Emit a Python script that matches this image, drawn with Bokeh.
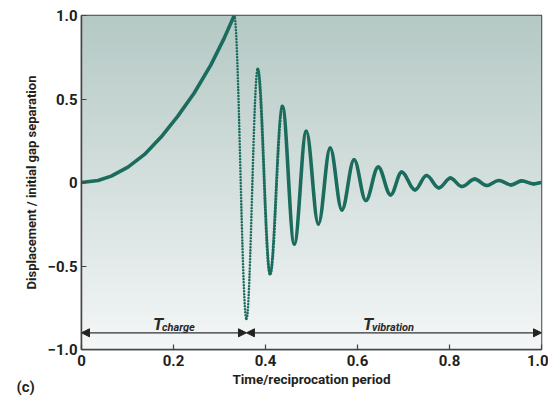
import numpy as np
from bokeh.plotting import figure
from bokeh.models import FixedTicker, Arrow, NormalHead, Label, Range1d, ColumnDataSource
from bokeh.embed import file_html
from bokeh.resources import INLINE

# ---- data ----
# charge phase (time, displacement)
charge_t = [0.0, 0.036, 0.0646, 0.101, 0.137, 0.173, 0.209, 0.245, 0.281, 0.310, 0.332]
charge_y = [0.0, 0.012, 0.038, 0.092, 0.168, 0.272, 0.396, 0.536, 0.703, 0.863, 1.0]

# vibration phase: successive extrema (time, displacement)
vib_t = [0.332, 0.3586, 0.383, 0.410, 0.4366, 0.4626, 0.4886, 0.515, 0.5406, 0.566,
         0.5926, 0.618, 0.645, 0.672, 0.696, 0.725, 0.750, 0.777, 0.802, 0.827,
         0.855, 0.881, 0.907, 0.934, 0.957, 0.983, 1.0]
vib_y = [1.0, -0.817, 0.679, -0.548, 0.456, -0.368, 0.306, -0.248, 0.206, -0.164,
         0.136, -0.108, 0.092, -0.074, 0.062, -0.044, 0.042, -0.032, 0.026, -0.024,
         0.020, -0.018, 0.012, -0.014, 0.010, -0.008, 0.0]

phase_edges = [0.0, 0.3586, 1.0]
phase_names = ["charge", "vibration"]
phase_level = -0.9

x_ticks = [0, 0.2, 0.4, 0.6, 0.8, 1.0]
x_tick_labels = ["0", "0.2", "0.4", "0.6", "0.8", "1.0"]
y_ticks = [-1.0, -0.5, 0, 0.5, 1.0]
y_tick_labels = ["\u22121.0", "\u22120.5", "0", "0.5", "1.0"]

# ---- styling ----
FONT = "Roboto"
LINE = "#1b6c5d"
TXT = "#231f20"

p = figure(width=548, height=396, x_range=Range1d(0, 1), y_range=Range1d(-1, 1),
           output_backend="svg", toolbar_location=None,
           min_border_left=81, min_border_right=7, min_border_top=15, min_border_bottom=47)
p.background_fill_color = "white"
p.border_fill_color = "white"
p.grid.visible = False
p.outline_line_color = "#444444"
p.outline_line_width = 1.5

# gradient background of the frame
N = 334
top = np.array([181, 201, 197], dtype=float)
bot = np.array([244, 247, 247], dtype=float)
f = np.linspace(0, 1, N)[:, None]
rgb = (bot * (1 - f) + top * f).astype(np.uint32)
img = np.empty((N, 1), dtype=np.uint32)
view = img.view(dtype=np.uint8).reshape((N, 1, 4))
view[:, :, 0] = rgb[:, None, 0]
view[:, :, 1] = rgb[:, None, 1]
view[:, :, 2] = rgb[:, None, 2]
view[:, :, 3] = 255
p.image_rgba(image=[img], x=0, y=-1, dw=1, dh=2)

# charge curve
p.line(charge_t, charge_y, line_color=LINE, line_width=3.6, line_join="round", line_cap="round")

# vibration: half-cosine-like bezier between successive extrema
a = 0.364
segs = dict(x0=[], y0=[], x1=[], y1=[], cx0=[], cy0=[], cx1=[], cy1=[])
for i in range(len(vib_t) - 1):
    x0, y0, x1, y1 = vib_t[i], vib_y[i], vib_t[i + 1], vib_y[i + 1]
    dx = x1 - x0
    segs["x0"].append(x0); segs["y0"].append(y0)
    segs["x1"].append(x1); segs["y1"].append(y1)
    segs["cx0"].append(x0 + a * dx); segs["cy0"].append(y0)
    segs["cx1"].append(x1 - a * dx); segs["cy1"].append(y1)

def sub(lo, hi):
    return ColumnDataSource({k: v[lo:hi] for k, v in segs.items()})

p.bezier(x0="x0", y0="y0", x1="x1", y1="y1", cx0="cx0", cy0="cy0", cx1="cx1", cy1="cy1",
         source=sub(0, 2), line_color=LINE, line_width=2.6, line_dash="0 3", line_cap="round")
p.bezier(x0="x0", y0="y0", x1="x1", y1="y1", cx0="cx0", cy0="cy0", cx1="cx1", cy1="cy1",
         source=sub(2, 4), line_color=LINE, line_width=3.0, line_dash="1 2", line_cap="round")
p.bezier(x0="x0", y0="y0", x1="x1", y1="y1", cx0="cx0", cy0="cy0", cx1="cx1", cy1="cy1",
         source=sub(4, len(segs["x0"])), line_color=LINE, line_width=3.6, line_cap="round")

# phase arrows
for i in range(len(phase_names)):
    p.add_layout(Arrow(x_start=phase_edges[i], x_end=phase_edges[i + 1],
                       y_start=phase_level, y_end=phase_level,
                       start=NormalHead(size=8, fill_color="#222222", line_color="#222222"),
                       end=NormalHead(size=8, fill_color="#222222", line_color="#222222"),
                       line_color="#333333", line_width=1.3))

t_offsets = [-11, -31]
sub_offsets = [-2, -22]
for i, name in enumerate(phase_names):
    mid = (phase_edges[i] + phase_edges[i + 1]) / 2
    p.add_layout(Label(x=mid, y=phase_level, x_offset=t_offsets[i], y_offset=9, text="T",
                       text_font=FONT, text_font_style="bold italic", text_font_size="17px",
                       text_color="#2a2a2a", text_baseline="alphabetic"))
    p.add_layout(Label(x=mid, y=phase_level, x_offset=sub_offsets[i], y_offset=5, text=name,
                       text_font=FONT, text_font_style="bold italic", text_font_size="11px",
                       text_color="#2a2a2a", text_baseline="alphabetic"))

# axes
for ax, ticks, labels in ((p.xaxis, x_ticks, x_tick_labels), (p.yaxis, y_ticks, y_tick_labels)):
    ax.ticker = FixedTicker(ticks=ticks)
    ax.major_label_overrides = dict(zip(ticks, labels))
    ax.minor_tick_line_color = None
    ax.major_tick_in = 5
    ax.major_tick_out = 0
    ax.major_tick_line_color = "#444444"
    ax.major_tick_line_width = 1.2
    ax.axis_line_color = "#444444"
    ax.axis_line_width = 1.5
    ax.major_label_text_font = FONT
    ax.major_label_text_font_style = "bold"
    ax.major_label_text_font_size = "15px"
    ax.major_label_text_color = TXT
    ax.axis_label_text_font = FONT
    ax.axis_label_text_font_style = "bold"
    ax.axis_label_text_color = TXT

p.xaxis.major_label_standoff = 5
p.yaxis.major_label_standoff = 4
p.xaxis.axis_label = "Time/reciprocation period"
p.xaxis.axis_label_text_font_size = "13.5px"
p.xaxis.axis_label_standoff = 2
p.yaxis.axis_label = "Displacement / initial gap separation"
p.yaxis.axis_label_text_font_size = "13px"
p.yaxis.axis_label_standoff = 6

p.add_layout(Label(x=14, y=-37, x_units="screen", y_units="screen", text="(c)",
                   text_font=FONT, text_font_style="bold", text_font_size="15px",
                   text_color=TXT, text_baseline="alphabetic"), "left")

open("out.html", "w").write(file_html(p, INLINE))
